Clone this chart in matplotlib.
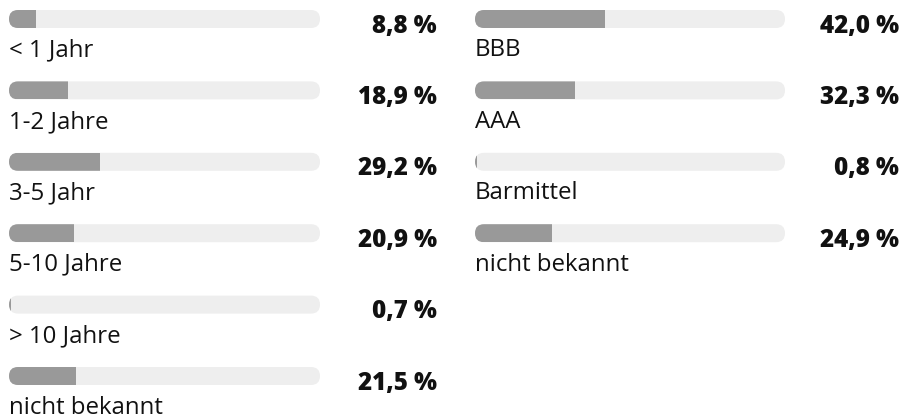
import matplotlib
matplotlib.use("Agg")
import matplotlib.pyplot as plt
from matplotlib.patches import FancyBboxPatch

# Laufzeiten
maturity_labels = ["< 1 Jahr", "1-2 Jahre", "3-5 Jahr", "5-10 Jahre", "> 10 Jahre", "nicht bekannt"]
maturity_values = [8.8, 18.9, 29.2, 20.9, 0.7, 21.5]

# Ratings
rating_labels = ["BBB", "AAA", "Barmittel", "nicht bekannt"]
rating_values = [42.0, 32.3, 0.8, 24.9]

W, H, DPI = 906, 419, 100
TRACK = "#eeeeee"
FILL = "#999999"
TEXT = "#111111"
LABEL_FONT = "Open Sans"
VALUE_FONT = "Open Sans"

fig = plt.figure(figsize=(W / DPI, H / DPI), dpi=DPI)
fig.patch.set_facecolor("white")

FIRST = 19.0   # centre of first bar, px from top
PITCH = 71.4   # vertical distance between rows, px
BAR_H = 18.0   # bar thickness, px


def column(labels, values, x0, x1, value_right):
    # axes spans the bar track horizontally (0..100 %) and the full figure height in px
    ax = fig.add_axes([x0 / W, 0, (x1 - x0) / W, 1])
    ax.set_xlim(0, 100)
    ax.set_ylim(H, 0)
    ax.axis("off")
    px_per_unit = (x1 - x0) / 100.0
    r = BAR_H / 2
    for i, (lab, val) in enumerate(zip(labels, values)):
        yc = FIRST + i * PITCH
        track = FancyBboxPatch((0, yc - r), 100, BAR_H,
                               boxstyle=f"round,pad=0,rounding_size={r / px_per_unit}",
                               mutation_aspect=px_per_unit,
                               facecolor=TRACK, edgecolor="none", clip_on=False)
        ax.add_patch(track)
        bars = ax.barh([yc], [val], height=BAR_H, left=0, color=FILL, linewidth=0)
        for b in bars:
            b.set_clip_path(track)
        ax.text(0, yc + 37.5, lab, fontsize=17.3, family=LABEL_FONT, color=TEXT,
                ha="left", va="baseline", transform=ax.transData, clip_on=False)
        ax.annotate(f"{val:.1f} %".replace(".", ","), xy=(value_right / W, 1 - (yc + 13.5) / H),
                    xycoords="figure fraction", fontsize=17.4, fontweight=800,
                    family=VALUE_FONT, color=TEXT, ha="right", va="baseline")


column(maturity_labels, maturity_values, 9, 320, 437)
column(rating_labels, rating_values, 475, 785, 899)

fig.savefig("out.png", dpi=DPI, facecolor="white")
